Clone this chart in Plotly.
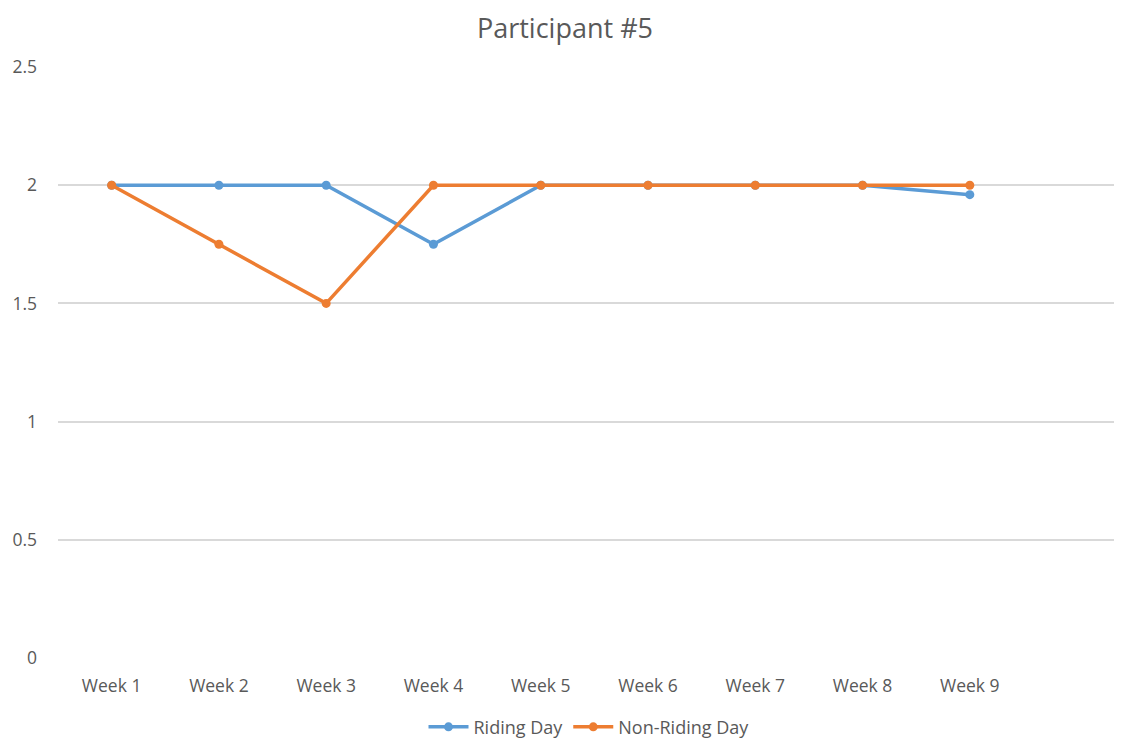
import plotly.graph_objects as go

weeks = ["Week 1", "Week 2", "Week 3", "Week 4", "Week 5", "Week 6", "Week 7", "Week 8", "Week 9"]
riding = [2, 2, 2, 1.75, 2, 2, 2, 2, 1.96]
non_riding = [2, 1.75, 1.5, 2, 2, 2, 2, 2, 2]

blue = "#5B9BD5"
orange = "#ED7D31"

fig = go.Figure()
fig.add_trace(go.Scatter(x=weeks, y=riding, name="Riding Day", mode="lines+markers",
                         line=dict(color=blue, width=3.5), marker=dict(size=9, color=blue)))
fig.add_trace(go.Scatter(x=weeks, y=non_riding, name="Non-Riding Day", mode="lines+markers",
                         line=dict(color=orange, width=3.5), marker=dict(size=9, color=orange)))

fig.update_layout(
    width=1114, height=730,
    paper_bgcolor="white", plot_bgcolor="white",
    margin=dict(l=50, r=2, t=59, b=80, autoexpand=False),
    font=dict(family="Open Sans, Liberation Sans, sans-serif", color="#595959", size=17),
    title=dict(text="Participant #5", x=0.5, xanchor="center", y=0.972, yanchor="middle",
               font=dict(size=27, color="#595959")),
    showlegend=True,
    legend=dict(orientation="h", x=0.5, xanchor="center", y=-0.117, yanchor="middle",
                font=dict(size=18, color="#595959"), itemwidth=40),
    xaxis=dict(type="category", categoryorder="array", categoryarray=weeks,
               range=[-0.5, 9.4], showgrid=False, zeroline=False, showline=False,
               ticks="", ticklabelstandoff=15, tickfont=dict(size=17.5), automargin=False),
    yaxis=dict(range=[0, 2.5], dtick=0.5, showgrid=True, gridcolor="#D9D9D9", gridwidth=1.5,
               zeroline=False, showline=False, ticks="", ticklabelstandoff=20,
               tickfont=dict(size=17.5), automargin=False),
)

fig.write_html("out.html")
